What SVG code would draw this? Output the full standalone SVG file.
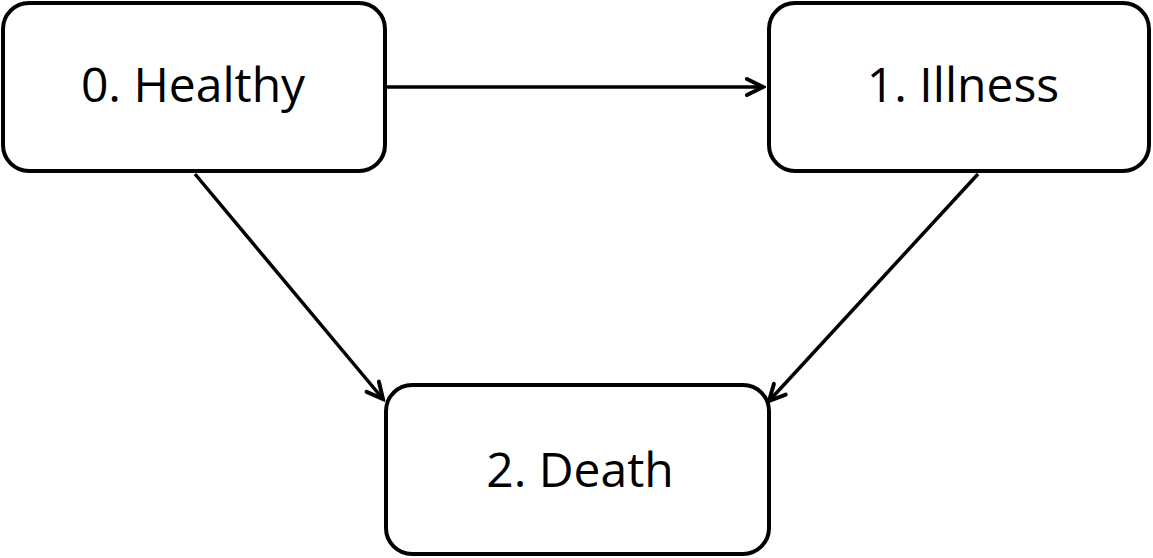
<svg xmlns="http://www.w3.org/2000/svg" width="1153" height="558" viewBox="0 0 1153 558">
<style>
.box{fill:#fff;stroke:#000;stroke-width:4}
.lbl{font-family:"Open Sans","Liberation Sans",sans-serif;font-size:48px;fill:#000;text-anchor:middle}
.edge{stroke:#000;stroke-width:3.5;fill:none;marker-end:url(#ah)}
</style>
<defs>
<marker id="ah" viewBox="0 0 22 22" refX="19" refY="11" markerWidth="22" markerHeight="22" markerUnits="userSpaceOnUse" orient="auto">
<path d="M3,3 L19,11 L3,19" fill="none" stroke="#000" stroke-width="4" stroke-linecap="round" stroke-linejoin="miter"/>
</marker>
</defs>
<rect width="1153" height="558" fill="#fff"/>
<g id="connectors">
<line class="edge" x1="386" y1="87" x2="763" y2="87"/>
<line class="edge" x1="195" y1="174" x2="383" y2="399"/>
<line class="edge" x1="978" y1="174" x2="769" y2="401"/>
</g>
<g id="node-healthy">
<rect class="box" x="3" y="3" width="382" height="168" rx="26"/>
<text class="lbl" x="193" y="102">0. Healthy</text>
</g>
<g id="node-illness">
<rect class="box" x="769" y="3" width="380" height="168" rx="26"/>
<text class="lbl" x="963" y="102">1. Illness</text>
</g>
<g id="node-death">
<rect class="box" x="386" y="385" width="383" height="169" rx="26"/>
<text class="lbl" x="580" y="487">2. Death</text>
</g>
</svg>
